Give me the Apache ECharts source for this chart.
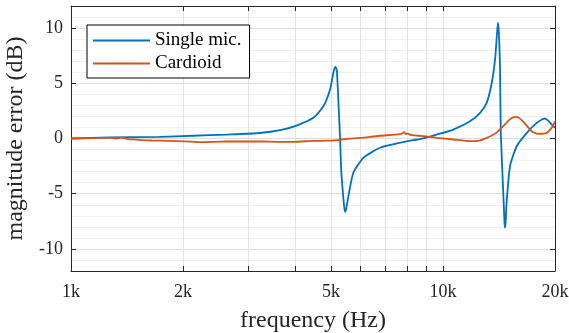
<!DOCTYPE html>
<html>
<head>
<meta charset="utf-8">
<script src="https://cdn.jsdelivr.net/npm/echarts@6/dist/echarts.min.js"></script>
<style>
  html, body { margin: 0; padding: 0; background: #fff; }
  #chart { width: 569px; height: 333px; }
</style>
</head>
<body>
<div id="chart"></div>
<script>
// frequency points (Hz) and magnitude error (dB)
const singleFreq = [1000, 1270, 1730, 2130, 2620, 3220, 3650, 4040, 4480, 4770, 4970, 5070, 5110, 5140, 5180, 5210, 5240, 5290, 5330, 5400, 5430, 5460, 5490, 5570, 5740, 6110, 6770, 7510, 8320, 8670, 9620, 10660, 11820, 12580, 13100, 13520, 13800, 13960, 14050, 14130, 14230, 14300, 14520, 14630, 14680, 14740, 14800, 15140, 15780, 16800, 17860, 18500, 18800, 19200, 19600, 20000];
const singleVals = [0, 0.1, 0.15, 0.25, 0.36, 0.5, 0.75, 1.17, 1.87, 2.92, 4.43, 5.93, 6.35, 6.48, 6.2, 4.8, 2.92, -0.09, -3.1, -5.5, -6.3, -6.65, -6.4, -5.2, -3.1, -1.75, -0.84, -0.45, -0.15, -0.05, 0.36, 0.81, 1.56, 2.32, 3.22, 5.03, 7.14, 9.4, 10.5, 9.6, 6.53, 0.51, -4.9, -7.6, -8.07, -7.5, -6.1, -2.5, -0.7, 0.51, 1.42, 1.75, 1.81, 1.6, 1.26, 0.97];

const cardioidFreq = [1000, 1100, 1200, 1270, 1320, 1370, 1420, 1500, 1560, 1650, 1750, 1920, 2100, 2270, 2450, 2620, 3000, 3220, 3650, 3960, 4480, 4870, 5200, 5500, 5980, 6770, 7660, 7870, 7950, 8050, 8170, 9230, 9620, 10660, 11820, 12400, 13100, 13900, 14800, 15300, 15780, 16400, 17300, 18000, 19000, 19600, 20000];
const cardioidVals = [0, 0.02, 0.05, 0.06, 0.0, 0.08, -0.05, -0.1, -0.15, -0.18, -0.2, -0.24, -0.28, -0.33, -0.3, -0.27, -0.27, -0.27, -0.3, -0.3, -0.22, -0.2, -0.15, -0.03, 0.05, 0.25, 0.39, 0.57, 0.4, 0.45, 0.33, 0.15, 0.06, -0.09, -0.24, -0.22, 0.06, 0.51, 1.42, 1.85, 1.96, 1.56, 0.66, 0.42, 0.51, 0.97, 1.56];

const xTickVals = [1000, 2000, 3000, 4000, 5000, 6000, 7000, 8000, 9000, 10000, 20000];
const xLabelVals = [1000, 2000, 5000, 10000, 20000];
const yTickVals = [-10, -5, 0, 5, 10];

const seriesNames = ['Single mic.', 'Cardioid'];

const zip = (xs, ys) => xs.map((x, i) => [x, ys[i]]);

const FONT = '"Liberation Serif", "Times New Roman", serif';
const AXIS_COLOR = '#262626';

const chart = echarts.init(document.getElementById('chart'));

const option = {
  animation: false,
  backgroundColor: '#fff',
  grid: { left: 71, right: 14, top: 6, bottom: 62, outerBoundsMode: 'none', containLabel: false },
  legend: {
    orient: 'vertical',
    left: 87,
    top: 25,
    padding: [6, 8, 5, 6],
    itemGap: 4,
    itemWidth: 57,
    itemHeight: 2,
    icon: 'rect',
    borderColor: '#000',
    borderWidth: 1,
    backgroundColor: '#fff',
    textStyle: { fontFamily: FONT, fontSize: 19, color: '#000', lineHeight: 18 },
    data: seriesNames
  },
  xAxis: [
    {
      type: 'log',
      logBase: 10,
      min: 1000,
      max: 20000,
      name: 'frequency (Hz)',
      nameLocation: 'middle',
      nameGap: 38,
      nameTextStyle: { fontFamily: FONT, fontSize: 24, color: AXIS_COLOR },
      axisLine: { show: true, onZero: false, lineStyle: { color: AXIS_COLOR, width: 1 } },
      axisTick: { show: true, inside: true, length: 5, customValues: xTickVals, lineStyle: { color: AXIS_COLOR } },
      axisLabel: {
        customValues: xLabelVals,
        margin: 12,
        fontFamily: FONT,
        fontSize: 18,
        color: AXIS_COLOR,
        formatter: v => (v / 1000) + 'k'
      },
      splitLine: { show: true, lineStyle: { color: '#e3e3e3', width: 1 } },
      minorSplitLine: { show: false }
    },
    {
      type: 'log',
      logBase: 10,
      min: 1000,
      max: 20000,
      position: 'top',
      axisLine: { show: true, onZero: false, lineStyle: { color: AXIS_COLOR, width: 1 } },
      axisTick: { show: true, inside: true, length: 5, customValues: xTickVals, lineStyle: { color: AXIS_COLOR } },
      axisLabel: { show: false },
      splitLine: { show: false }
    }
  ],
  yAxis: [
    {
      // minor grid every 1 dB
      type: 'value',
      min: -12,
      max: 12,
      interval: 1,
      axisLine: { show: true, onZero: false, lineStyle: { color: AXIS_COLOR, width: 1 } },
      axisTick: { show: false },
      axisLabel: { show: false },
      splitLine: { show: true, lineStyle: { color: '#f0f0f0', width: 1 } }
    },
    {
      type: 'value',
      min: -12,
      max: 12,
      position: 'left',
      name: 'magnitude error (dB)',
      nameLocation: 'middle',
      nameGap: 30,
      nameTextStyle: { fontFamily: FONT, fontSize: 24, color: AXIS_COLOR },
      axisLine: { show: false, onZero: false },
      axisTick: { show: true, inside: true, length: 5, customValues: yTickVals, lineStyle: { color: AXIS_COLOR } },
      axisLabel: { customValues: yTickVals, margin: 8, fontFamily: FONT, fontSize: 18, color: AXIS_COLOR },
      splitLine: { show: true, lineStyle: { color: '#dedede', width: 1 } }
    },
    {
      type: 'value',
      min: -12,
      max: 12,
      position: 'right',
      axisLine: { show: true, onZero: false, lineStyle: { color: AXIS_COLOR, width: 1 } },
      axisTick: { show: true, inside: true, length: 5, customValues: yTickVals, lineStyle: { color: AXIS_COLOR } },
      axisLabel: { show: false },
      splitLine: { show: false }
    }
  ],
  series: [
    {
      name: seriesNames[0],
      type: 'line',
      xAxisIndex: 0,
      yAxisIndex: 1,
      showSymbol: false,
      symbol: 'none',
      smooth: 0.2,
      z: 3,
      lineStyle: { color: '#0072BD', width: 1.8 },
      itemStyle: { color: '#0072BD' },
      data: zip(singleFreq, singleVals)
    },
    {
      name: seriesNames[1],
      type: 'line',
      xAxisIndex: 0,
      yAxisIndex: 1,
      showSymbol: false,
      symbol: 'none',
      smooth: 0.2,
      z: 4,
      lineStyle: { color: '#D95319', width: 1.8 },
      itemStyle: { color: '#D95319' },
      data: zip(cardioidFreq, cardioidVals)
    }
  ]
};

chart.setOption(option);
window.addEventListener('resize', () => chart.resize());
</script>
</body>
</html>
